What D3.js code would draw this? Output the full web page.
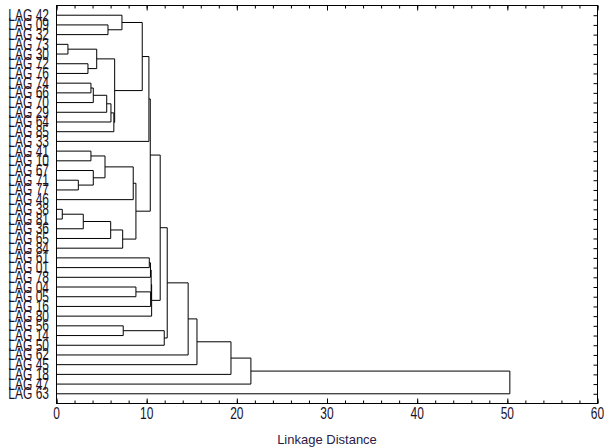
<!DOCTYPE html>
<html>
<head>
<meta charset="utf-8">
<title>Linkage Distance Tree</title>
<script src="https://cdn.jsdelivr.net/npm/d3@7"></script>
<style>
    body { margin: 0; background: #fff; }
    svg text { font-family: "Liberation Sans", Arial, sans-serif; }
</style>
</head>
<body>
<script>
    // leaf order, top to bottom
    var leaves = ["42", "09", "32", "73", "30", "72", "76", "74", "66", "70",
        "29", "64", "85", "33", "41", "10", "67", "71", "77", "46",
        "38", "81", "36", "65", "84", "61", "01", "78", "04", "05",
        "16", "80", "56", "14", "50", "62", "45", "18", "47", "63"];

    // [child, child, linkage distance]; "#k" = result of merge k
    var merges = [
        ["09", "32", 5.71],     // 0
        ["42", "#0", 7.26],     // 1
        ["73", "30", 1.27],     // 2
        ["72", "76", 3.49],     // 3
        ["#2", "#3", 4.46],     // 4
        ["74", "66", 3.82],     // 5
        ["#5", "70", 4.08],     // 6
        ["#6", "29", 5.57],     // 7
        ["#7", "64", 6.04],     // 8
        ["#8", "85", 6.36],     // 9
        ["#4", "#9", 6.45],     // 10
        ["#1", "#10", 9.51],    // 11
        ["#11", "33", 10.25],   // 12
        ["41", "10", 3.82],     // 13
        ["71", "77", 2.42],     // 14
        ["67", "#14", 4.08],    // 15
        ["#13", "#15", 5.38],   // 16
        ["#16", "46", 8.51],    // 17
        ["38", "81", 0.64],     // 18
        ["#18", "36", 2.97],    // 19
        ["#19", "65", 6.01],    // 20
        ["#20", "84", 7.34],    // 21
        ["#17", "#21", 8.81],   // 22
        ["#12", "#22", 10.4],   // 23
        ["61", "01", 10.29],    // 24
        ["#24", "78", 10.42],   // 25
        ["04", "05", 8.81],     // 26
        ["#26", "16", 10.44],   // 27
        ["#25", "#27", 10.5],   // 28
        ["#28", "80", 10.55],   // 29
        ["#23", "#29", 11.5],   // 30
        ["56", "14", 7.4],      // 31
        ["#31", "50", 11.95],   // 32
        ["#30", "#32", 12.28],  // 33
        ["#33", "62", 14.6],    // 34
        ["#34", "45", 15.58],   // 35
        ["#35", "18", 19.35],   // 36
        ["#36", "47", 21.56],   // 37
        ["#37", "63", 50.28]    // 38
    ];

    var xTicks = [0, 10, 20, 30, 40, 50, 60];
    var xMinor = d3.range(0, 61, 2);
    var xTitle = "Linkage Distance";
    var leafPrefix = "LAG ";

    var w = 604, h = 448;
    var pl = 56.5, pr = 597.5, pt = 5.5, pb = 403.5;   // plot box

    var x = d3.scaleLinear().domain([0, 60]).range([pl, pr]);
    var y = d3.scalePoint().domain(leaves).range([pt, pb]).padding(1);

    var svg = d3.select("body").append("svg")
            .attr("width", w)
            .attr("height", h);

    // positions of merged nodes
    var nodes = [];
    function pos(ref) {
        if (ref.charAt(0) === "#") return nodes[+ref.slice(1)];
        return { d: 0, y: y(ref) };
    }
    merges.forEach(function(m) {
        var a = pos(m[0]), b = pos(m[1]);
        nodes.push({ a: a, b: b, d: m[2], y: (a.y + b.y) / 2 });
    });

    svg.append("g")
            .selectAll("path")
            .data(nodes)
            .enter()
            .append("path")
            .attr("d", function(n) {
                return "M" + x(n.a.d) + "," + n.a.y +
                    "H" + x(n.d) + "V" + n.b.y + "H" + x(n.b.d);
            })
            .attr("fill", "none")
            .attr("stroke", "#000")
            .attr("stroke-width", 1);

    // frame + inward ticks
    function ticks(axis) {
        return function(g) { g.call(axis); g.select(".domain").remove(); g.selectAll("text").remove(); };
    }
    svg.append("g").attr("transform", "translate(0," + pb + ")")
            .call(ticks(d3.axisBottom(x).tickValues(xMinor).tickSize(-3)));
    svg.append("g").attr("transform", "translate(0," + pb + ")")
            .call(ticks(d3.axisBottom(x).tickValues(xTicks).tickSize(-5)));
    svg.append("g").attr("transform", "translate(0," + pt + ")")
            .call(ticks(d3.axisTop(x).tickValues(xMinor).tickSize(-3)));
    svg.append("g").attr("transform", "translate(0," + pt + ")")
            .call(ticks(d3.axisTop(x).tickValues(xTicks).tickSize(-5)));
    svg.append("g").attr("transform", "translate(" + pr + ",0)")
            .call(ticks(d3.axisRight(y).tickSize(-4)));

    svg.append("rect")
            .attr("x", pl)
            .attr("y", pt)
            .attr("width", pr - pl)
            .attr("height", pb - pt)
            .attr("fill", "none")
            .attr("stroke", "#000");

    // leaf labels (tall, narrow look of the original)
    svg.append("g")
            .selectAll("text")
            .data(leaves)
            .enter()
            .append("text")
            .attr("transform", function(d) {
                return "translate(49," + (y(d) + 5.5) + ") scale(1,1.3)";
            })
            .attr("text-anchor", "end")
            .attr("font-size", "12px")
            .attr("fill", "#1a1026")
            .text(function(d) { return leafPrefix + d; });

    svg.append("g")
            .selectAll("text")
            .data(xTicks)
            .enter()
            .append("text")
            .attr("transform", function(d) {
                return "translate(" + x(d) + "," + (pb + 15) + ") scale(1,1.3)";
            })
            .attr("text-anchor", "middle")
            .attr("font-size", "12px")
            .attr("fill", "#1a1026")
            .text(function(d) { return d; });

    svg.append("text")
            .attr("x", (pl + pr) / 2)
            .attr("y", 444)
            .attr("text-anchor", "middle")
            .attr("font-size", "13px")
            .attr("fill", "#2a1a46")
            .text(xTitle);
</script>
</body>
</html>
